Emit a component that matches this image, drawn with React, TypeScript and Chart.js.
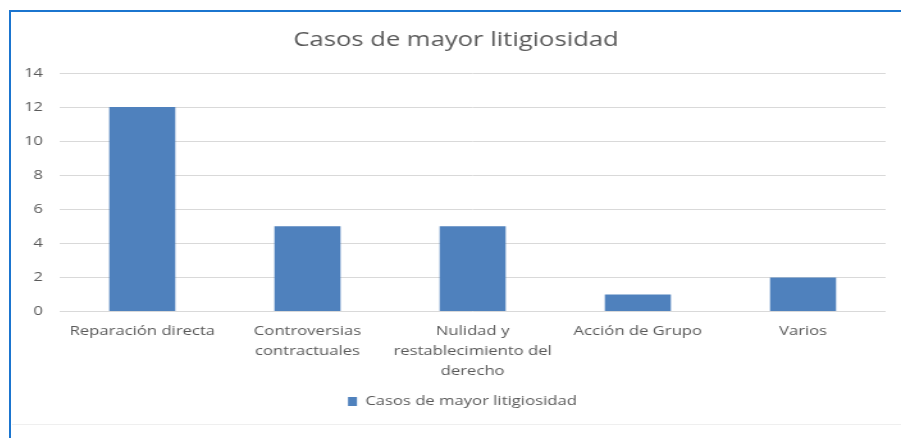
import React, { useEffect, useRef } from "react";
import { Chart, registerables } from "chart.js";

Chart.register(...registerables);

const categories: (string | string[])[] = [
  "Reparación directa",
  ["Controversias", "contractuales"],
  ["Nulidad y", "restablecimiento del", "derecho"],
  "Acción de Grupo",
  "Varios",
];
const seriesName = "Casos de mayor litigiosidad";
const values = [12, 5, 5, 1, 2];
const chartTitle = "Casos de mayor litigiosidad";

const FONT = "'Open Sans', 'Noto Sans', sans-serif";
const TEXT = "#595959";
const STRETCH = 890 / 695;

const shiftBlocks = {
  id: "shiftBlocks",
  afterLayout(chart: any) {
    const t = chart.titleBlock;
    if (t) {
      t.left += 6;
      t.right += 6;
    }
    const l = chart.legend;
    if (l) {
      l.left += 11;
      l.right += 11;
    }
  },
};

export default function App() {
  const ref = useRef<HTMLCanvasElement | null>(null);
  useEffect(() => {
    if (!ref.current) return;
    const chart = new Chart(ref.current, {
      type: "bar",
      data: {
        labels: categories,
        datasets: [
          {
            label: seriesName,
            data: values,
            backgroundColor: "#4F81BD",
            categoryPercentage: 1,
            barPercentage: 0.4,
          },
        ],
      },
      plugins: [shiftBlocks],
      options: {
        animation: false,
        responsive: false,
        layout: { padding: { left: 0, right: 12, top: 0, bottom: 6 } },
        plugins: {
          title: {
            display: true,
            text: chartTitle,
            color: TEXT,
            font: { family: FONT, size: 20, weight: "normal" },
            padding: { top: 16, bottom: 21 },
          },
          legend: {
            position: "bottom",
            labels: {
              color: TEXT,
              font: { family: FONT, size: 13 },
              boxWidth: 7,
              boxHeight: 9,
              padding: 4,
            },
          },
          tooltip: { enabled: false },
        },
        scales: {
          x: {
            grid: { display: false, drawTicks: false },
            border: { display: false },
            ticks: {
              color: TEXT,
              font: { family: FONT, size: 13, lineHeight: 1.55 },
              padding: 9.5,
              maxRotation: 0,
              autoSkip: false,
            },
          },
          y: {
            min: 0,
            max: 14,
            grid: { color: "#D9D9D9", lineWidth: 1, drawTicks: false },
            border: { display: false },
            afterFit: (s: any) => {
              s.width = 38;
            },
            ticks: {
              stepSize: 2,
              color: TEXT,
              font: { family: FONT, size: 13 },
              padding: 13,
            },
          },
        },
      },
    });
    return () => chart.destroy();
  }, []);

  return (
    <div
      style={{
        position: "fixed",
        left: 0,
        top: 0,
        width: 901,
        height: 438,
        background: "#fff",
        overflow: "hidden",
      }}
    >
      <div style={{ position: "absolute", left: 9, top: 10, width: 892, height: 2, background: "#1B75CF" }} />
      <div style={{ position: "absolute", left: 9, top: 10, width: 2, height: 428, background: "#1B75CF" }} />
      <div style={{ position: "absolute", left: 12, top: 424, width: 889, height: 1, background: "#EFEFEF" }} />
      <div
        style={{
          position: "absolute",
          left: 11,
          top: 12,
          width: 695,
          height: 412,
          transform: `scaleX(${STRETCH})`,
          transformOrigin: "0 0",
        }}
      >
        <canvas ref={ref} width={695} height={412} />
      </div>
    </div>
  );
}
